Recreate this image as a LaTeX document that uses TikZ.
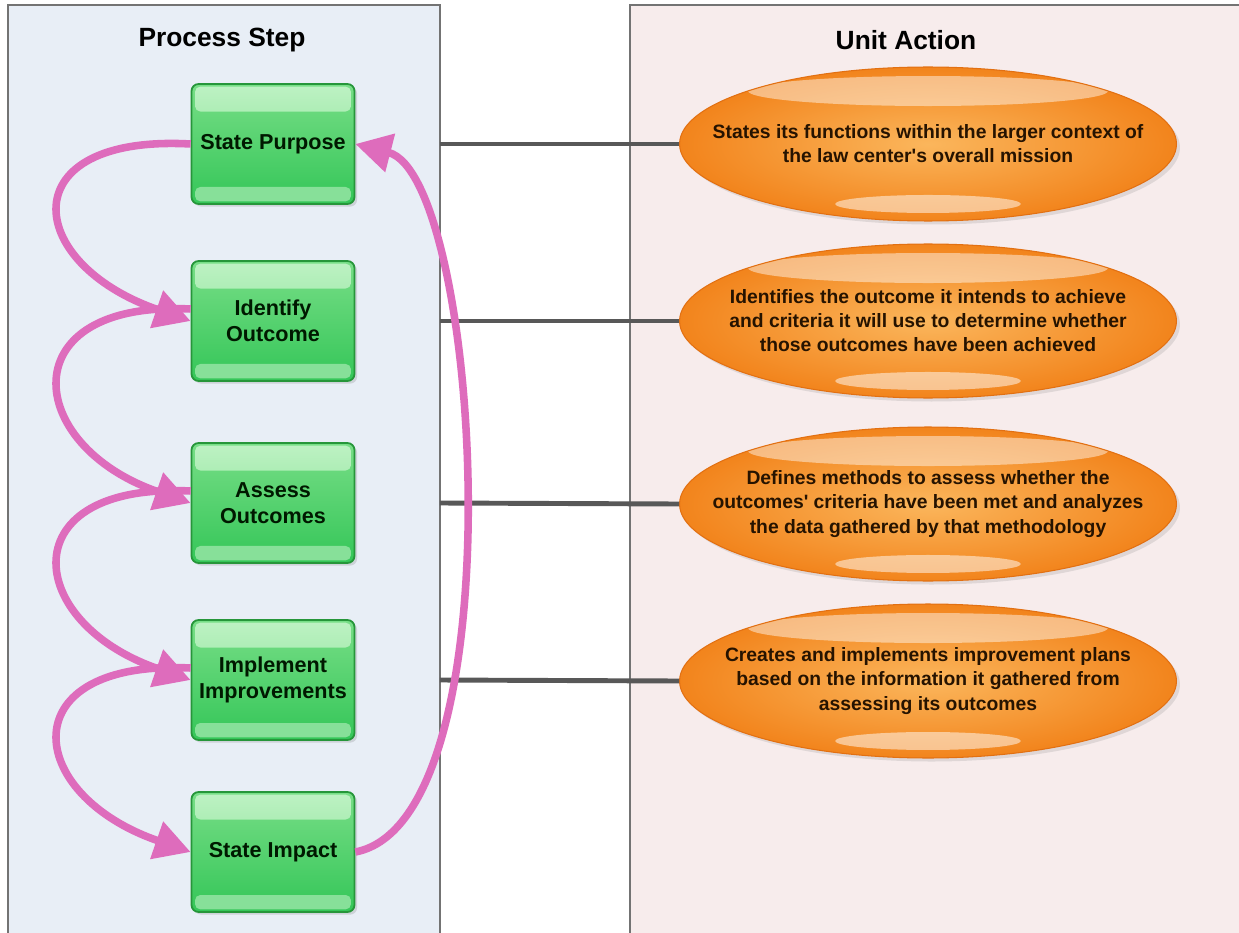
\documentclass[tikz,border=0pt]{standalone}
\usepackage{fontspec}
\setmainfont{Liberation Sans}
\usetikzlibrary{positioning,arrows.meta,shadows,shapes.geometric}

\definecolor{panelblue}{RGB}{232,238,246}
\definecolor{panelpink}{RGB}{247,236,236}
\definecolor{panelline}{RGB}{115,115,115}
\definecolor{boxline}{RGB}{38,150,58}
\definecolor{boxtop}{RGB}{120,222,135}
\definecolor{boxbottom}{RGB}{52,198,88}
\definecolor{boxshine}{RGB}{190,242,196}
\definecolor{ellline}{RGB}{226,112,18}
\definecolor{ellinner}{RGB}{251,182,92}
\definecolor{ellouter}{RGB}{242,132,28}
\definecolor{loopink}{RGB}{222,108,188}
\definecolor{linkgray}{RGB}{88,88,88}

\begin{document}
\begin{tikzpicture}[x=0.02cm,y=-0.02cm,
	panel/.style={draw=panelline,line width=0.8pt,inner sep=0pt,outer sep=0pt,anchor=north west},
	title/.style={font=\bfseries\fontsize{15}{18}\selectfont},
	stepbox/.style={draw=boxline,line width=1pt,rounded corners=4pt,
		top color=boxtop,bottom color=boxbottom,
		minimum width=3.26cm,minimum height=2.4cm,align=center,
		font=\bfseries\fontsize{12.3}{14.7}\selectfont,text=black!90!green,
		drop shadow={shadow xshift=1.5pt,shadow yshift=-1.5pt,opacity=0.25},
		path picture={
			\shade[top color=boxshine,bottom color=boxtop,rounded corners=3pt]
				([xshift=2pt,yshift=-1.5pt]path picture bounding box.north west) rectangle
				([xshift=-2pt,yshift=-0.55cm]path picture bounding box.north east);
			\fill[boxshine!60!boxbottom,rounded corners=3pt]
				([xshift=2pt,yshift=0.34cm]path picture bounding box.south west) rectangle
				([xshift=-2pt,yshift=1.5pt]path picture bounding box.south east);
		}},
	actionell/.style={ellipse,draw=ellline,line width=0.6pt,
		inner color=ellinner,outer color=ellouter,
		minimum width=9.94cm,minimum height=3.08cm,inner xsep=-1.5cm,inner ysep=0pt,align=center,
		font=\bfseries\fontsize{11}{13.7}\selectfont,text=black!85!orange,
		drop shadow={shadow xshift=2pt,shadow yshift=-2pt,opacity=0.2},
		path picture={
			\fill[white,fill opacity=0.45]
				([yshift=-0.48cm]path picture bounding box.north) ellipse [x radius=3.6cm,y radius=0.3cm];
			\fill[white,fill opacity=0.5]
				([yshift=0.34cm]path picture bounding box.south) ellipse [x radius=1.86cm,y radius=0.18cm];
		}},
	loop/.style={draw=loopink,line width=4.3pt,
		-{Triangle[length=0.72cm,width=0.76cm]}},
	link/.style={draw=linkgray,line width=2.8pt}]
	\useasboundingbox (0,0) rectangle (1239,932);
	\fill[white] (0,0) rectangle (1239,932);

	% two columns
	\node[panel,fill=panelblue,minimum width=8.64cm,minimum height=19cm] (steppanel) at (8,5) {};
	\node[panel,fill=panelpink,minimum width=13cm,minimum height=19cm] (actionpanel) at (630,5) {};
	\node[title] (steptitle) at (222,40) {Process Step};
	\node[title] (actiontitle) at (906,40) {Unit Action};

	% process steps
	\node[stepbox] (sp) at (273,144) {State Purpose};
	\node[stepbox] (io) at (273,321) {Identify\\Outcome};
	\node[stepbox] (ao) at (273,503) {Assess\\Outcomes};
	\node[stepbox] (ii) at (273,680) {Implement\\Improvements};
	\node[stepbox] (si) at (273,852) {State Impact};

	% unit actions
	\node[actionell] (ua1) at (928,144) {States its functions within the larger context of\\the law center\textquotesingle s overall mission};
	\node[actionell] (ua2) at (928,321) {Identifies the outcome it intends to achieve\\and criteria it will use to determine whether\\those outcomes have been achieved};
	\node[actionell] (ua3) at (928,504) {Defines methods to assess whether the\\outcomes\textquotesingle\ criteria have been met and analyzes\\the data gathered by that methodology};
	\node[actionell] (ua4) at (928,681) {Creates and implements improvement plans\\based on the information it gathered from\\assessing its outcomes};

	\draw[link] (sp -| steppanel.east) -- (ua1.west);
	\draw[link] (io -| steppanel.east) -- (ua2.west);
	\draw[link] (ao -| steppanel.east) -- (ua3.west);
	\draw[link] (ii -| steppanel.east) -- (ua4.west);

	% cycle
	\draw[loop] (sp.west) .. controls +(-180,-10) and +(-168,-58) .. (io.west);
	\draw[loop] ([yshift=0.24cm]io.west) .. controls +(-180,-9) and +(-168,-58) .. (ao.west);
	\draw[loop] ([yshift=0.24cm]ao.west) .. controls +(-180,-9) and +(-168,-58) .. (ii.west);
	\draw[loop] ([yshift=0.24cm]ii.west) .. controls +(-180,-9) and +(-168,-58) .. (si.west);
	\draw[loop] (si.east) .. controls +(165,-32) and +(125,32) .. (sp.east);
\end{tikzpicture}
\end{document}
